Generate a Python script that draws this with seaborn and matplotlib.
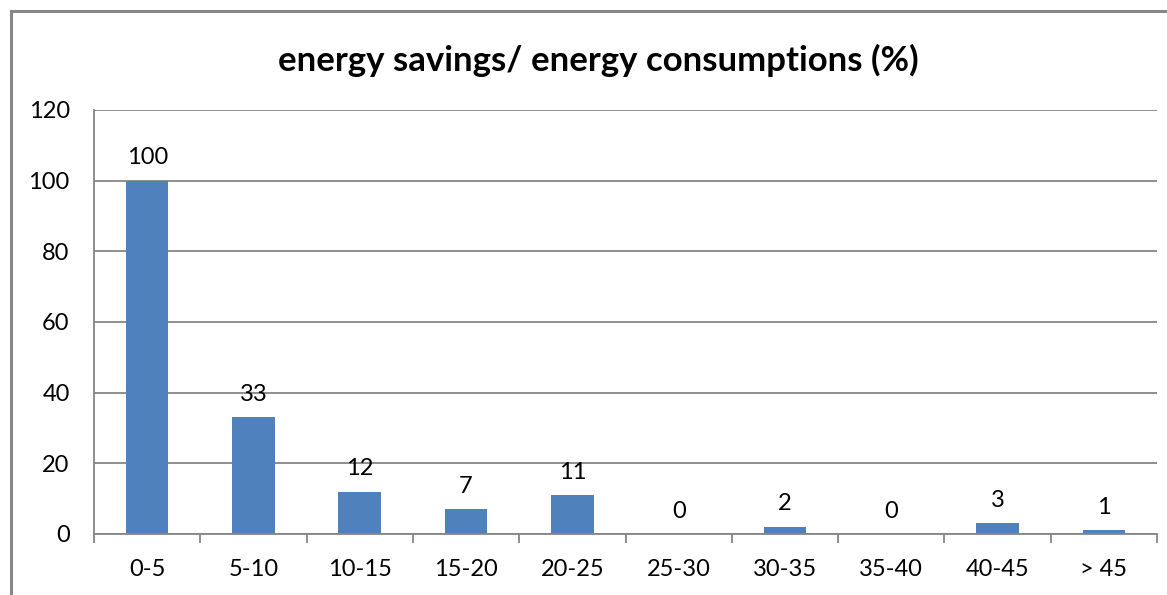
import matplotlib
matplotlib.use("Agg")
import matplotlib.pyplot as plt
import seaborn as sns
import pandas as pd
from matplotlib.patches import Rectangle

categories = ["0-5", "5-10", "10-15", "15-20", "20-25", "25-30", "30-35", "35-40", "40-45", "> 45"]
counts = [100, 33, 12, 7, 11, 0, 2, 0, 3, 1]
y_ticks = [0, 20, 40, 60, 80, 100, 120]
title = "energy savings/ energy consumptions (%)"

BAR = "#4F81BD"
GRID = "#868686"

sns.set_theme(style="white")
plt.rcParams["font.family"] = ["Lato", "DejaVu Sans"]

df = pd.DataFrame({"range": categories, "count": counts})

fig = plt.figure(figsize=(11.67, 5.95), dpi=100)
ax = fig.add_axes([94 / 1167, 61 / 595, 1063 / 1167, 424 / 595])

sns.barplot(data=df, x="range", y="count", color=BAR, saturation=1, width=0.4,
            linewidth=0, ax=ax)

ax.set_ylim(0, 120)
ax.set_xlim(-0.5, len(categories) - 0.5)
ax.set_yticks(y_ticks)
ax.yaxis.grid(True, color=GRID, linewidth=1.3)
ax.set_axisbelow(True)
ax.set_xlabel("")
ax.set_ylabel("")

for side in ["top", "right"]:
    ax.spines[side].set_visible(False)
for side in ["left", "bottom"]:
    ax.spines[side].set_color(GRID)
    ax.spines[side].set_linewidth(1.3)

ax.tick_params(axis="y", length=6.5, width=1.3, color=GRID, pad=11, labelsize=17, labelcolor="black")
ax.tick_params(axis="x", which="major", length=0, pad=18, labelsize=17, labelcolor="black")
ax.set_xticks([i - 0.5 for i in range(len(categories) + 1)], minor=True)
ax.tick_params(axis="x", which="minor", length=6.5, width=1.3, color=GRID, bottom=True)

for cont in ax.containers:
    ax.bar_label(cont, labels=[str(v) for v in counts], padding=9, fontsize=17, color="black")

fig.text(598 / 1167, 1 - 60 / 595, title, ha="center", va="center",
         fontsize=25, fontweight="bold", color="black")

# outer chart border (cut off on right and bottom)
fig.patches.append(Rectangle((11 / 1167, -0.1), 1.2, 1 - 11 / 595 + 0.1,
                             transform=fig.transFigure, fill=False,
                             edgecolor=GRID, linewidth=2.2))

fig.savefig("out.png", dpi=100)
